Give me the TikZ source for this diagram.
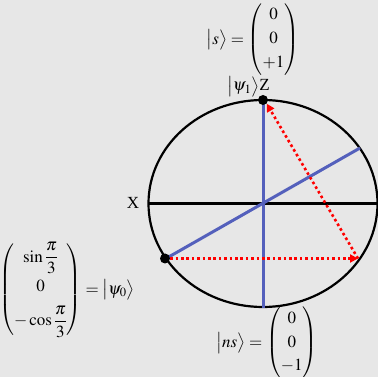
\documentclass[tikz,border=0pt]{standalone}
\usepackage{amsmath}
\usepackage{mathptmx}
\usepackage{fontspec}
\setmainfont{Liberation Serif}
\usetikzlibrary{arrows.meta}
\definecolor{bg}{RGB}{231,231,231}
\definecolor{axisblue}{RGB}{84,96,188}
\tikzset{
  axisline/.style={line width=3pt,draw=black},
  blueline/.style={line width=3pt,draw=axisblue},
  redarrow/.style={draw=red,line width=2.6pt,dash pattern=on 2.6pt off 2.8pt,-{Triangle[length=8pt,width=8pt]}},
  statedot/.style={circle,fill=black,inner sep=0pt,minimum size=10pt},
  lbl/.style={inner sep=0pt,font=\fontsize{17}{20}\selectfont}
}
\begin{document}
\begin{tikzpicture}[x=1pt,y=-1pt]
\useasboundingbox[fill=bg] (0,0) rectangle (378,377);
\coordinate (C) at (263,203.5);
\draw[line width=2.2pt] (C) ellipse [x radius=114.5pt, y radius=103.5pt];
\coordinate (Xl) at (148,203.5);
\coordinate (Xr) at (378,203.5);
\draw[axisline] (Xl) -- (Xr);
\coordinate (Zt) at (263,102);
\coordinate (Zb) at (263,308);
\draw[blueline] (Zt) -- (Zb);
\coordinate (Dl) at (166,258.5);
\coordinate (Dr) at (360,148);
\draw[blueline] (Dl) -- (Dr);
\coordinate (R) at (358,258.5);
\node[statedot] (top) at (263,100) {};
\node[statedot] (psi0) at (165,258.5) {};
\draw[redarrow] (R) -- (top.south east);
\draw[redarrow] (psi0.east) -- (R);
\node[lbl] (X) at (133,203) {X};
\node[lbl,anchor=base west] (psi1) at (227,91) {$\bigl|\psi_{1}\bigr\rangle$Z};
\node[lbl] (s) at (253,40) {$\bigl|s\bigr\rangle=\left(\begin{matrix}0\\[4pt]0\\[4pt]{+1}\end{matrix}\right)$};
\node[lbl] (ns) at (267,343) {$\bigl|ns\bigr\rangle=\left(\begin{matrix}0\\[4pt]0\\[4pt]{-1}\end{matrix}\right)$};
\node[lbl] (psi0l) at (67,290) {$\left(\begin{matrix}\sin\dfrac{\pi}{3}\\[9pt]0\\[9pt]-\cos\dfrac{\pi}{3}\end{matrix}\right)=\bigl|\psi_{0}\bigr\rangle$};
\end{tikzpicture}
\end{document}
